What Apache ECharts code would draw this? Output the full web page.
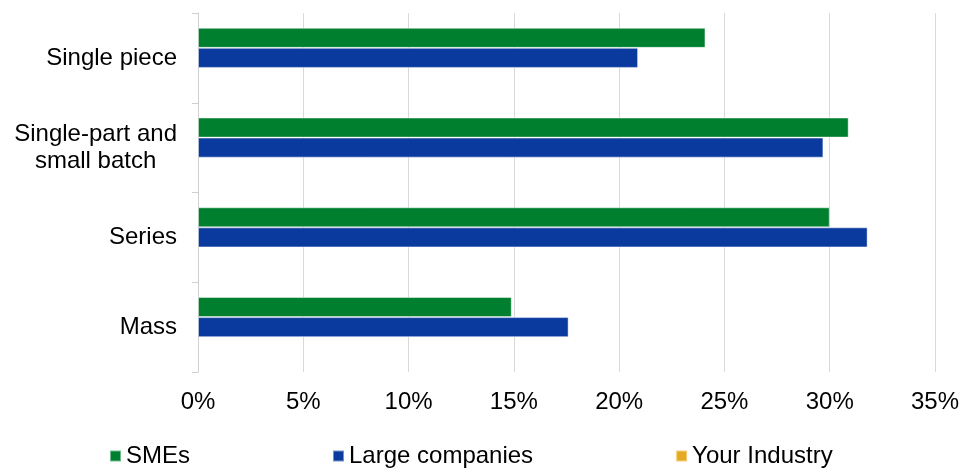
<!DOCTYPE html>
<html>
<head>
<meta charset="utf-8">
<script src="https://cdn.jsdelivr.net/npm/echarts@6/dist/echarts.min.js"></script>
<style>
  html, body { margin: 0; padding: 0; background: #fff; }
  #chart { width: 974px; height: 469px; }
</style>
</head>
<body>
<div id="chart"></div>
<script>
// Production type categories (top to bottom)
const categories = ['Single piece', 'Single-part and\nsmall batch', 'Series', 'Mass'];
// Share of companies per production type, in percent
const smes = [24.1, 30.9, 30.0, 14.9];
const largeCompanies = [20.9, 29.7, 31.8, 17.6];
const yourIndustry = [null, null, null, null];
const xTicks = [0, 5, 10, 15, 20, 25, 30, 35];

const FONT = '"Liberation Sans", Arial, sans-serif';
const chart = echarts.init(document.getElementById('chart'), null, { renderer: 'canvas' });

const barStyle = (color) => ({
  type: 'bar',
  barGap: '0%',
  barCategoryGap: '33%',
  itemStyle: { color: color, borderColor: 'rgba(255,255,255,0.45)', borderWidth: 1 }
});

chart.setOption({
  animation: false,
  textStyle: { fontFamily: FONT },
  grid: { left: 198, right: 39, top: 13, bottom: 97, containLabel: false },
  xAxis: {
    type: 'value',
    min: xTicks[0],
    max: xTicks[xTicks.length - 1],
    interval: xTicks[1] - xTicks[0],
    axisLine: { show: false },
    axisTick: { show: false },
    splitLine: { show: true, lineStyle: { color: '#d9d9d9', width: 1 } },
    axisLabel: {
      margin: 18,
      color: '#000',
      fontSize: 24,
      fontFamily: FONT,
      formatter: (v) => v + '%'
    }
  },
  yAxis: {
    type: 'category',
    inverse: true,
    data: categories,
    axisLine: { show: true, lineStyle: { color: '#d0d0d0', width: 1 } },
    axisTick: { show: true, length: 6, lineStyle: { color: '#d0d0d0' } },
    axisLabel: {
      margin: 21,
      color: '#000',
      fontSize: 24,
      fontFamily: FONT,
      lineHeight: 27,
      formatter: (v) => v.indexOf('\n') >= 0
        ? v.split('\n').map((s) => '{c|' + s + '}').join('\n')
        : v,
      rich: { c: { align: 'center', fontSize: 24, lineHeight: 27, color: '#000', fontFamily: FONT } }
    }
  },
  legend: {
    left: 104,
    top: 439,
    itemWidth: 11,
    itemHeight: 11,
    itemGap: 142,
    icon: 'rect',
    textStyle: { fontSize: 24, color: '#000', fontFamily: FONT, padding: [0, 0, 0, 0] },
    data: ['SMEs', 'Large companies', 'Your Industry']
  },
  series: [
    Object.assign(barStyle('#007F2F'), { name: 'SMEs', data: smes }),
    Object.assign(barStyle('#0A3A9E'), { name: 'Large companies', data: largeCompanies }),
    Object.assign(barStyle('#E6A91F'), { name: 'Your Industry', data: yourIndustry })
  ]
});
</script>
</body>
</html>
